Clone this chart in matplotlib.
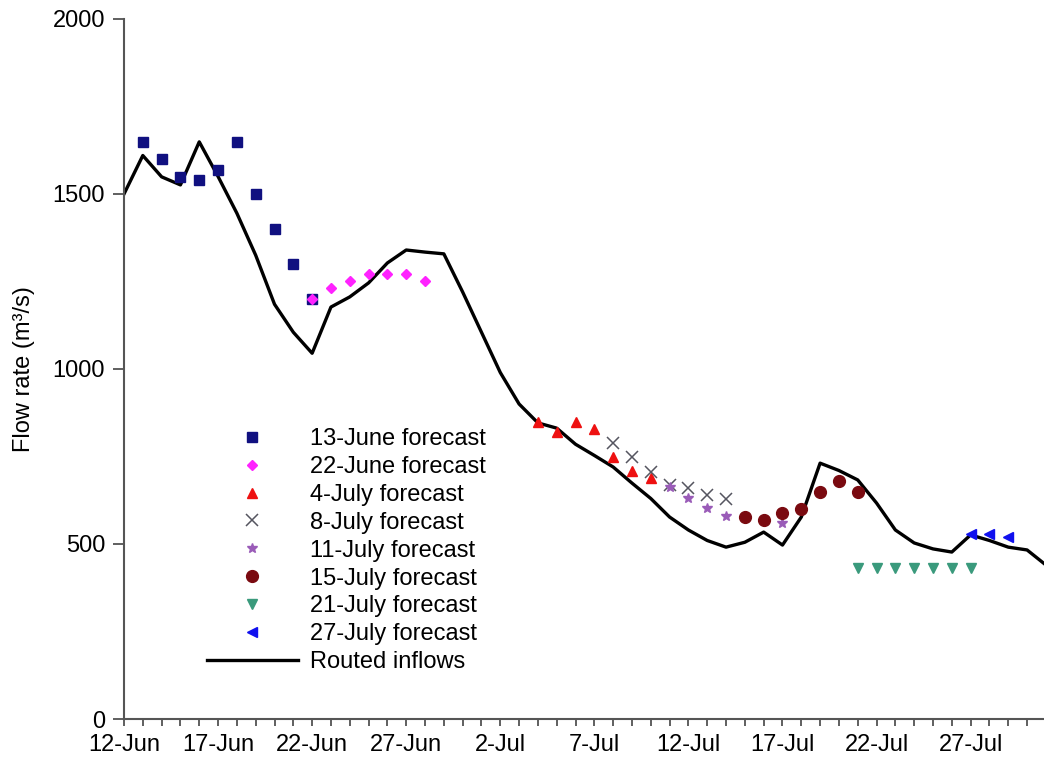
import matplotlib
matplotlib.use("Agg")
import matplotlib.pyplot as plt
from matplotlib.ticker import FixedLocator, MultipleLocator

plt.rcParams['font.family'] = ['Liberation Sans', 'DejaVu Sans']

# Days counted from 12 June
tick_days = [0, 5, 10, 15, 20, 25, 30, 35, 40, 45]
tick_labels = ["12-Jun", "17-Jun", "22-Jun", "27-Jun", "2-Jul",
               "7-Jul", "12-Jul", "17-Jul", "22-Jul", "27-Jul"]

# Routed inflows (m3/s), daily from 12 June
routed_days = list(range(0, 50))
routed_flow = [1500, 1610, 1549, 1526, 1649, 1550, 1445, 1325, 1185, 1105,
               1045, 1177, 1206, 1246, 1303, 1340, 1334, 1329, 1220, 1105,
               990, 900, 846, 831, 785, 753, 720, 674, 630, 577,
               540, 510, 491, 505, 534, 497, 577, 731, 710, 683,
               617, 540, 503, 486, 477, 526, 510, 491, 483, 440]

fc_13jun_days = [1, 2, 3, 4, 5, 6, 7, 8, 9, 10]
fc_13jun_flow = [1650, 1600, 1550, 1540, 1570, 1650, 1500, 1400, 1300, 1200]

fc_22jun_days = [10, 11, 12, 13, 14, 15, 16]
fc_22jun_flow = [1200, 1230, 1250, 1270, 1270, 1270, 1250]

fc_4jul_days = [22, 23, 24, 25, 26, 27, 28]
fc_4jul_flow = [848, 820, 848, 830, 750, 710, 688]

fc_8jul_days = [26, 27, 28, 29, 30, 31, 32]
fc_8jul_flow = [790, 750, 705, 670, 660, 640, 630]

fc_11jul_days = [29, 30, 31, 32, 35]
fc_11jul_flow = [662, 632, 602, 580, 560]

fc_15jul_days = [33, 34, 35, 36, 37, 38, 39]
fc_15jul_flow = [578, 570, 590, 600, 650, 680, 650]

fc_21jul_days = [39, 40, 41, 42, 43, 44, 45]
fc_21jul_flow = [431, 431, 431, 431, 431, 431, 431]

fc_27jul_days = [45, 46, 47]
fc_27jul_flow = [530, 530, 520]

fig = plt.figure(figsize=(10.44, 7.57), dpi=100)
ax = fig.add_axes([124 / 1044, 1 - 719 / 757, 920 / 1044, 700 / 757])

ax.plot(fc_13jun_days, fc_13jun_flow, ls='none', marker='s', ms=7,
        color='#101080', label='13-June forecast')
ax.plot(fc_22jun_days, fc_22jun_flow, ls='none', marker='D', ms=5.5,
        color='#ff22ff', label='22-June forecast')
ax.plot(fc_4jul_days, fc_4jul_flow, ls='none', marker='^', ms=7.5,
        color='#ee1111', label='4-July forecast')
ax.plot(fc_8jul_days, fc_8jul_flow, ls='none', marker='x', ms=8, mew=1.1,
        color='#555560', label='8-July forecast')
ax.plot(fc_11jul_days, fc_11jul_flow, ls='none', marker='*', ms=7,
        color='#9a5cb8', label='11-July forecast')
ax.plot(fc_15jul_days, fc_15jul_flow, ls='none', marker='o', ms=8.5,
        color='#7a0a10', label='15-July forecast')
ax.plot(fc_21jul_days, fc_21jul_flow, ls='none', marker='v', ms=7.5,
        color='#3a9a7c', label='21-July forecast')
ax.plot(fc_27jul_days, fc_27jul_flow, ls='none', marker='<', ms=7.5,
        color='#1010ee', label='27-July forecast')
ax.plot(routed_days, routed_flow, color='black', lw=2.4, label='Routed inflows',
        zorder=1.5)

ax.set_xlim(0, 48.9)
ax.set_ylim(0, 2000)
ax.xaxis.set_major_locator(FixedLocator(tick_days))
ax.set_xticklabels(tick_labels)
ax.xaxis.set_minor_locator(MultipleLocator(1))
ax.yaxis.set_major_locator(MultipleLocator(500))

for side in ('top', 'right'):
    ax.spines[side].set_visible(False)
for side in ('left', 'bottom'):
    ax.spines[side].set_color('#555555')
    ax.spines[side].set_linewidth(1.5)

ax.tick_params(axis='x', which='both', direction='out', length=5, width=1.2,
               color='#444444', labelsize=17, pad=6)
ax.tick_params(axis='y', which='major', direction='out', length=8, width=1.2,
               color='#444444', labelsize=17, pad=5.5)

ax.set_ylabel('Flow rate (m\u00b3/s)', fontsize=17, labelpad=13)

ax.legend(loc='upper left', bbox_to_anchor=(207 / 1044, 1 - 428 / 757),
          bbox_transform=fig.transFigure, frameon=False, fontsize=17,
          handlelength=3.85, handletextpad=0.5, labelspacing=0.25,
          borderpad=0, borderaxespad=0, numpoints=1)

fig.savefig('out.png', dpi=100)
